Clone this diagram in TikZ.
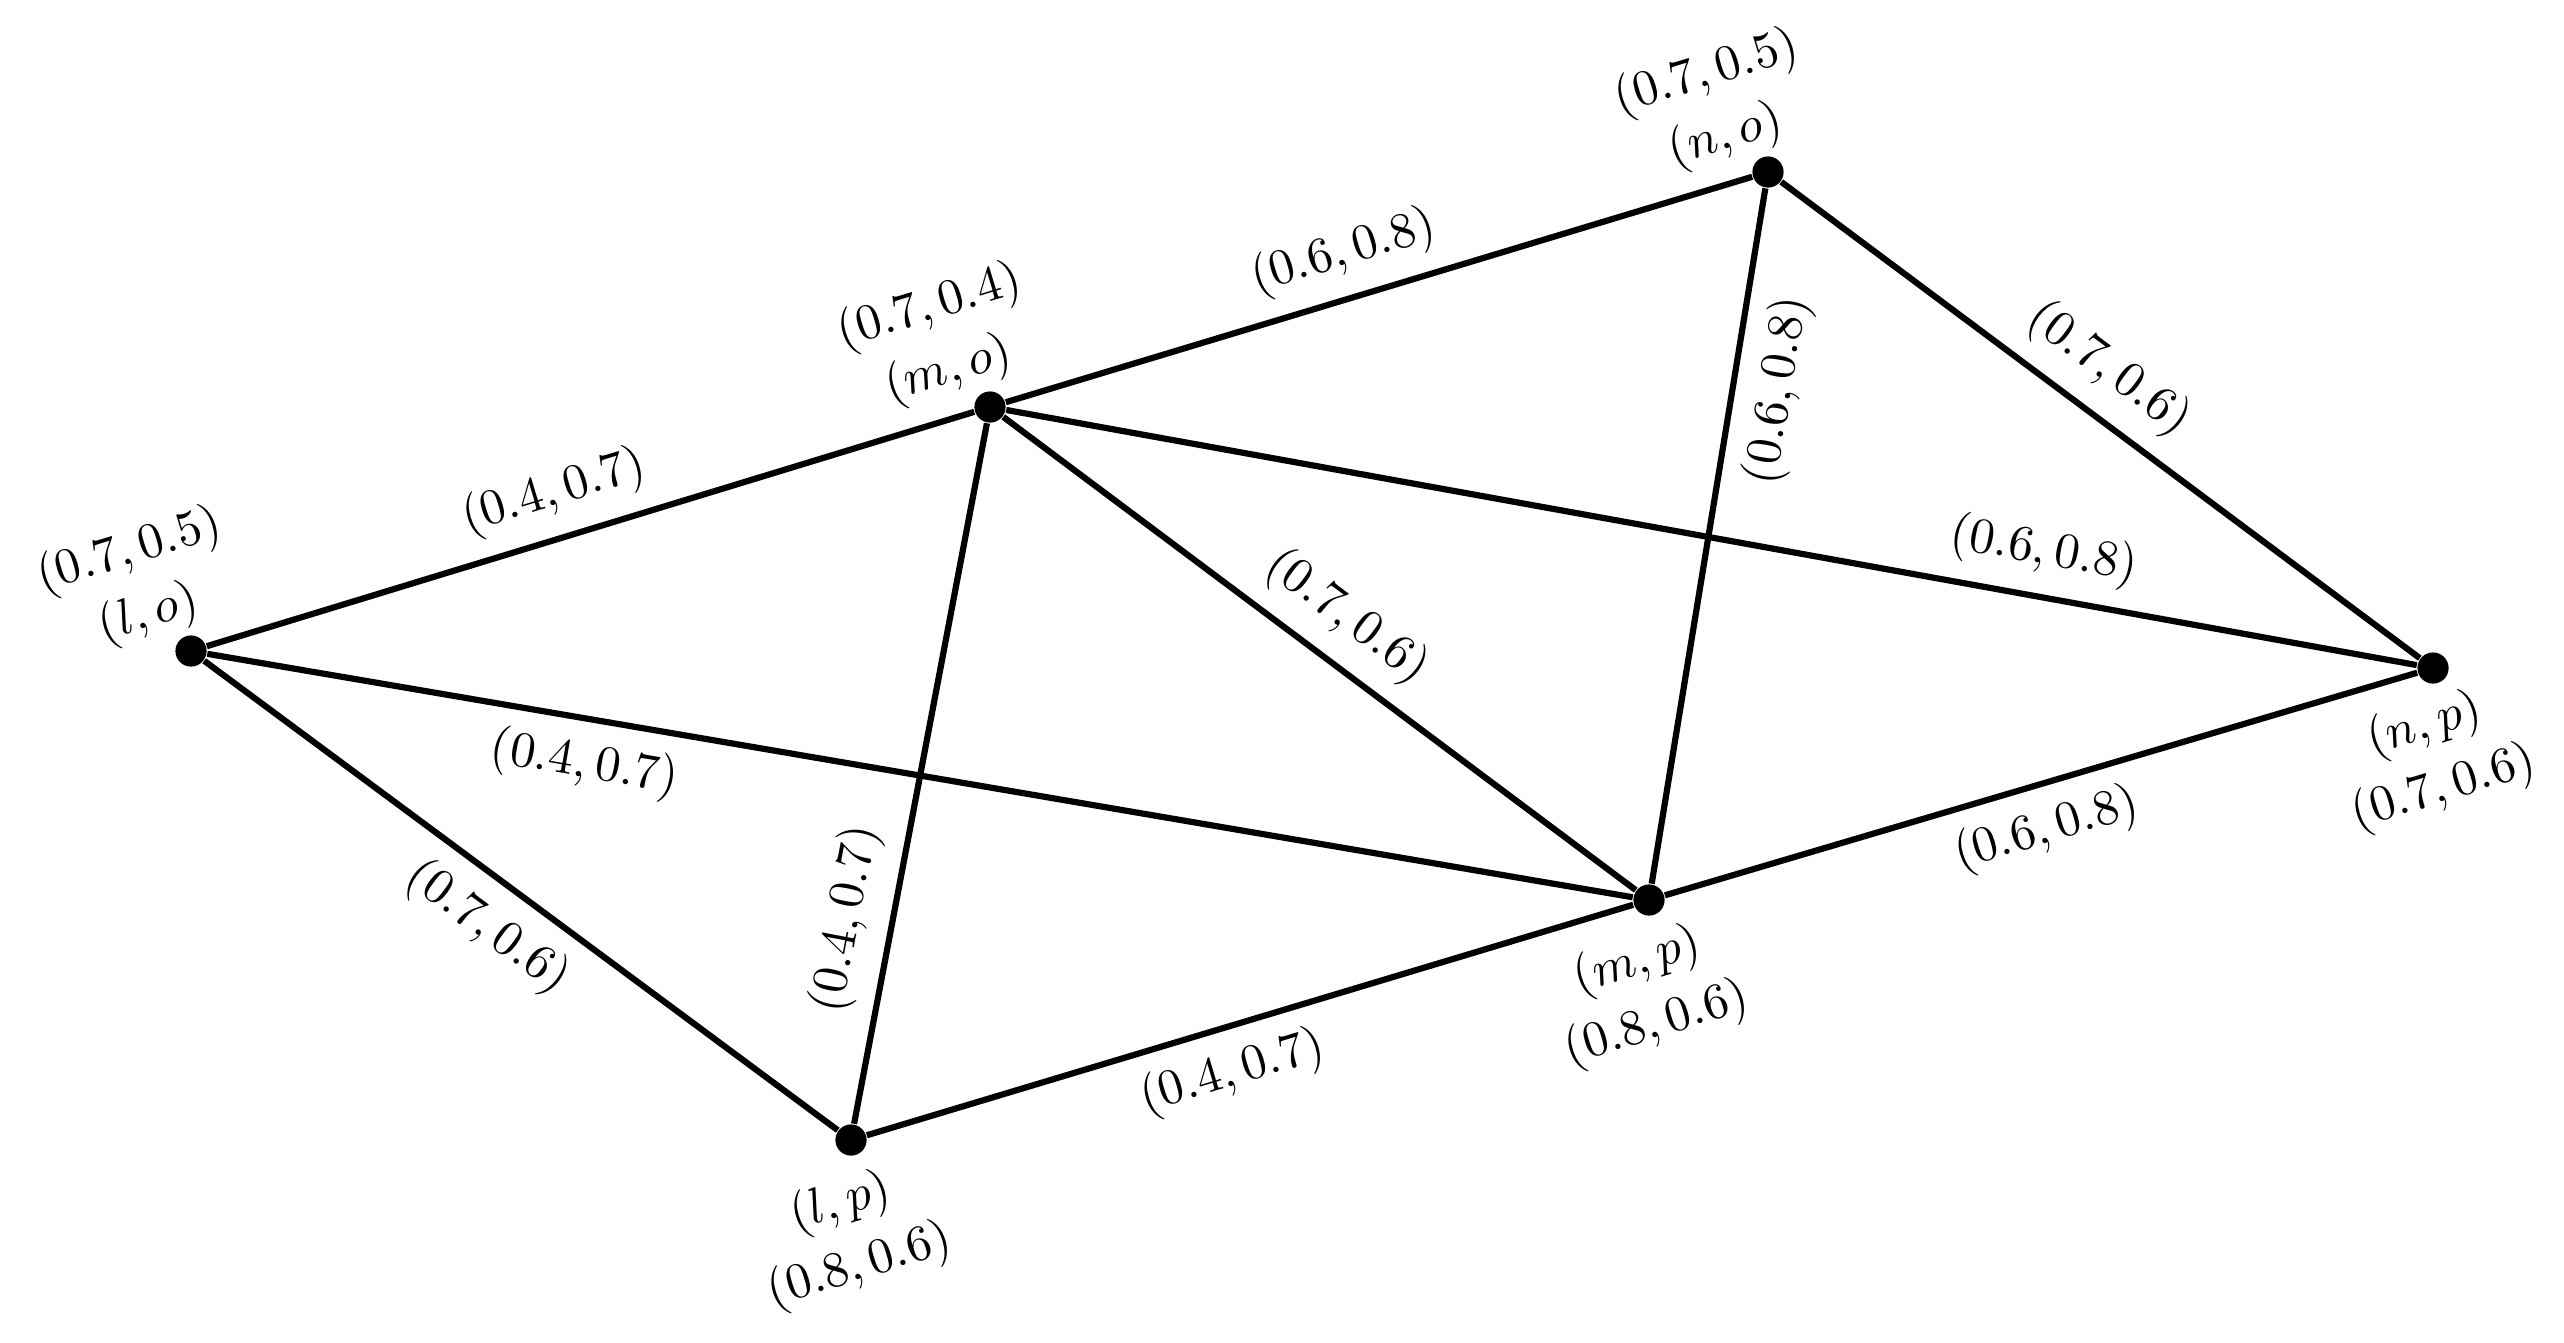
\documentclass[tikz,border=0pt]{standalone}
\begin{document}
\begin{tikzpicture}[x=0.218pt,y=-0.218pt,
  every node/.style={font=\fontsize{10.7pt}{12pt}\selectfont},
  vertex/.style={circle,fill=black,inner sep=0pt,minimum size=6.8pt},
  edge/.style={line width=1.35pt},
  elabel/.style={sloped,inner sep=3.8pt},
  vlabel/.style={rotate=17,align=center,inner sep=0pt}]
\useasboundingbox (0,0) rectangle (2564,1342);
% vertices
\node[vertex] (lo) at (191,651) {};
\node[vertex] (mo) at (990,407) {};
\node[vertex] (no) at (1768,172) {};
\node[vertex] (lp) at (851,1140) {};
\node[vertex] (mp) at (1649,900) {};
\node[vertex] (np) at (2433,668) {};
% vertex labels
\node[vlabel] (Llo) at (139,583) {$(0.7,0.5)$\\[2.3pt]$(l,o)$};
\node[vlabel] (Lmo) at (939,339) {$(0.7,0.4)$\\[2.3pt]$(m,o)$};
\node[vlabel] (Lno) at (1716,105) {$(0.7,0.5)$\\[2.3pt]$(n,o)$};
\node[vlabel] (Llp) at (850,1235) {$(l,p)$\\[2.3pt]$(0.8,0.6)$};
\node[vlabel] (Lmp) at (1647,993) {$(m,p)$\\[2.3pt]$(0.8,0.6)$};
\node[vlabel] (Lnp) at (2434,757) {$(n,p)$\\[2.3pt]$(0.7,0.6)$};
% edges
\draw[edge] (lo) -- node[elabel,above,pos=0.47] {$(0.4,0.7)$} (mo);
\draw[edge] (mo) -- node[elabel,above,pos=0.47] {$(0.6,0.8)$} (no);
\draw[edge] (no) -- node[elabel,above,pos=0.47] {$(0.7,0.6)$} (np);
\draw[edge] (lo) -- node[elabel,below,pos=0.49] {$(0.7,0.6)$} (lp);
\draw[edge] (lp) -- node[elabel,below,pos=0.46] {$(0.4,0.7)$} (mp);
\draw[edge] (mp) -- node[elabel,below,pos=0.49] {$(0.6,0.8)$} (np);
\draw[edge] (mo) -- node[elabel,above,pos=0.5] {$(0.7,0.6)$} (mp);
\draw[edge] (mo) -- node[elabel,above,pos=0.72] {$(0.4,0.7)$} (lp);
\draw[edge] (no) -- node[elabel,below,pos=0.28] {$(0.6,0.8)$} (mp);
\draw[edge] (lo) -- node[elabel,below,pos=0.27] {$(0.4,0.7)$} (mp);
\draw[edge] (mo) -- node[elabel,above,pos=0.73] {$(0.6,0.8)$} (np);
\end{tikzpicture}
\end{document}
